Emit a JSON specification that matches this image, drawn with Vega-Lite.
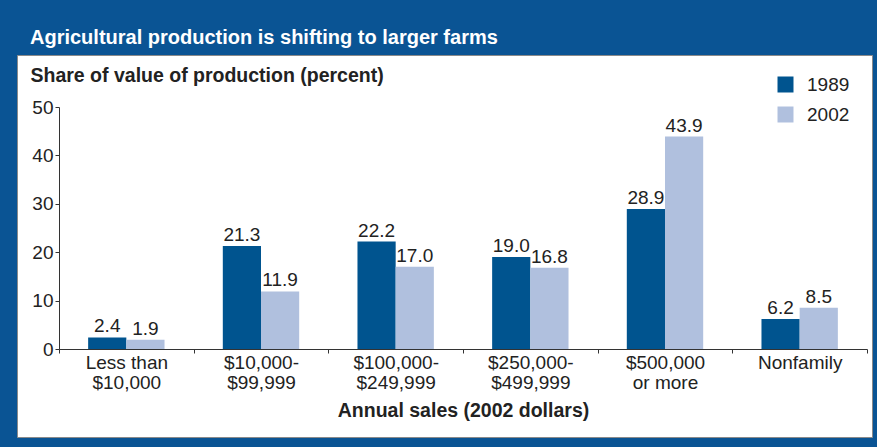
{
  "$schema": "https://vega.github.io/schema/vega-lite/v6.json",
  "width": 855,
  "height": 382,
  "autosize": {"type": "none"},
  "padding": {"left": 17, "top": 55, "right": 5, "bottom": 10},
  "background": "#0a5494",
  "title": {
    "text": "Agricultural production is shifting to larger farms",
    "anchor": "start",
    "frame": "group",
    "color": "white",
    "font": "Liberation Sans",
    "fontWeight": "bold",
    "fontSize": 20,
    "offset": 10,
    "dx": 13,
    "dy": 19,
    "baseline": "alphabetic"
  },
  "config": {
    "view": {"fill": "white", "stroke": "#8a8a8a", "strokeWidth": 1},
    "font": "Liberation Sans",
    "axis": {"labelFont": "Liberation Sans", "titleFont": "Liberation Sans"},
    "legend": {"labelFont": "Liberation Sans"}
  },
  "data": {
    "values": [
      {"group": "Less than $10,000", "year": "1989", "value": 2.4},
      {"group": "Less than $10,000", "year": "2002", "value": 1.9},
      {"group": "$10,000-$99,999", "year": "1989", "value": 21.3},
      {"group": "$10,000-$99,999", "year": "2002", "value": 11.9},
      {"group": "$100,000-$249,999", "year": "1989", "value": 22.2},
      {"group": "$100,000-$249,999", "year": "2002", "value": 17.0},
      {"group": "$250,000-$499,999", "year": "1989", "value": 19.0},
      {"group": "$250,000-$499,999", "year": "2002", "value": 16.8},
      {"group": "$500,000 or more", "year": "1989", "value": 28.9},
      {"group": "$500,000 or more", "year": "2002", "value": 43.9},
      {"group": "Nonfamily", "year": "1989", "value": 6.2},
      {"group": "Nonfamily", "year": "2002", "value": 8.5}
    ]
  },
  "encoding": {
    "x": {
      "field": "group",
      "type": "nominal",
      "sort": null,
      "scale": {"range": [42, 850], "paddingInner": 0, "paddingOuter": 0},
      "axis": {
        "orient": "bottom",
        "offset": -88,
        "tickBand": "extent",
        "tickSize": 4,
        "tickColor": "#333",
        "domainColor": "#333",
        "labelAngle": 0,
        "labelFontSize": 19,
        "labelLineHeight": 20,
        "labelPadding": 0,
        "labelColor": "#222",
        "labelExpr": "split(replace(replace(replace(datum.label, '-', '-|'), ' $', '|$'), ' or ', '|or '), '|')",
        "title": "Annual sales (2002 dollars)",
        "titleFontSize": 19.5,
        "titleFontWeight": "bold",
        "titleColor": "#222",
        "titlePadding": 9
      }
    },
    "xOffset": {"field": "year", "type": "nominal", "scale": {"paddingInner": 0, "paddingOuter": 0.763}},
    "y": {
      "field": "value",
      "type": "quantitative",
      "scale": {"domain": [0, 50], "range": [294, 52], "nice": false},
      "axis": {
        "orient": "left",
        "offset": -42,
        "values": [0, 10, 20, 30, 40, 50],
        "grid": false,
        "tickSize": 4,
        "tickColor": "#333",
        "domainColor": "#333",
        "labelFontSize": 19,
        "labelColor": "#222",
        "labelPadding": 2,
        "title": "Share of value of production (percent)",
        "titleAngle": 0,
        "titleAlign": "left",
        "titleBaseline": "middle",
        "titleX": -29,
        "titleY": 20,
        "titleFontSize": 19.5,
        "titleFontWeight": "bold",
        "titleColor": "#222"
      }
    }
  },
  "layer": [
    {
      "mark": {"type": "bar"},
      "encoding": {
        "color": {
          "field": "year",
          "type": "nominal",
          "scale": {"domain": ["1989", "2002"], "range": ["#00548f", "#b0c0de"]},
          "legend": {
            "orient": "none",
            "legendX": 759,
            "legendY": 20,
            "title": null,
            "symbolType": "square",
            "symbolSize": 256,
            "symbolStrokeWidth": 0,
            "labelFontSize": 19,
            "labelColor": "#222",
            "labelOffset": 12,
            "rowPadding": 10
          }
        }
      }
    },
    {
      "mark": {"type": "text", "dy": -5, "baseline": "alphabetic", "fontSize": 19, "color": "#222"},
      "encoding": {"text": {"field": "value", "type": "quantitative", "format": ".1f"}}
    }
  ]
}
